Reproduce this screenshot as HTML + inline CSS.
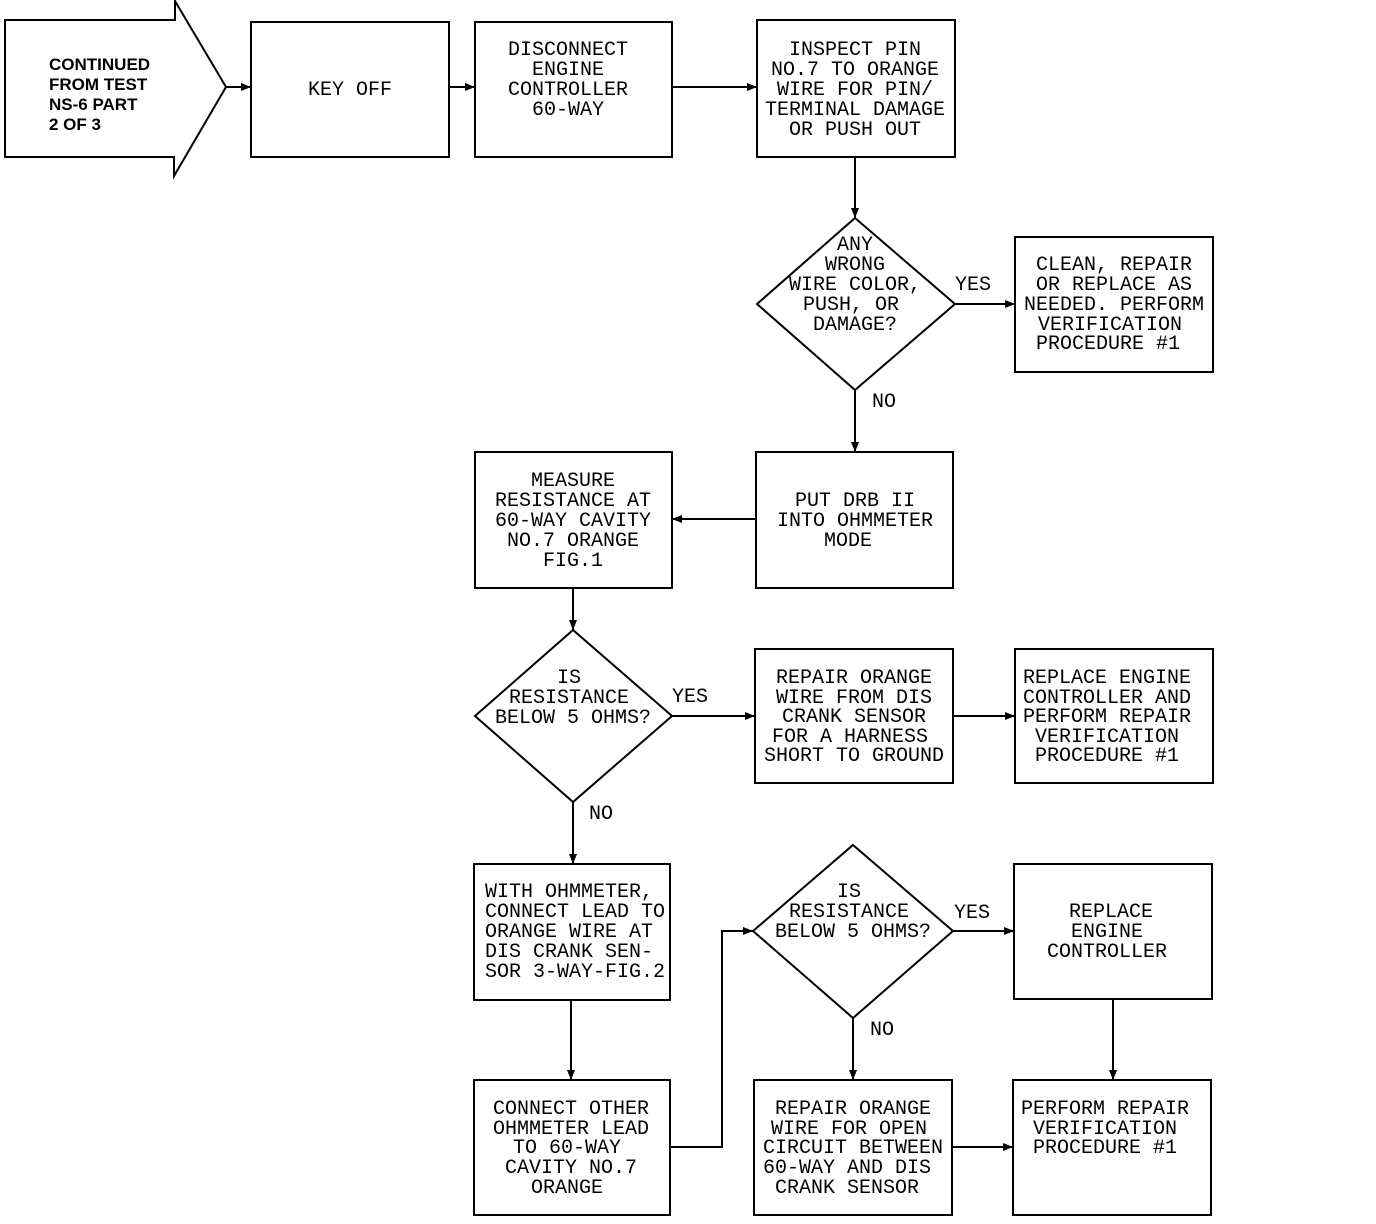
<!DOCTYPE html>
<html><head><meta charset="utf-8"><style>
html,body{margin:0;padding:0;background:#fff}
svg{display:block}
text{font-family:"Liberation Mono",monospace;font-size:20px;fill:#000;text-anchor:middle}
.b{font-family:"Liberation Sans",sans-serif;font-weight:bold;font-size:17px;text-anchor:start}
.l{text-anchor:start}
</style></head><body>
<svg width="1376" height="1224" viewBox="0 0 1376 1224" xmlns="http://www.w3.org/2000/svg">
<defs><marker id="a" markerWidth="10" markerHeight="8" refX="10" refY="4" orient="auto" markerUnits="userSpaceOnUse"><path d="M0,0 L10,4 L0,8 Z" fill="#000"/></marker></defs>
<g fill="none" stroke="#000" stroke-width="2">
<path d="M5,20 L175,20 L175,1 L226,87 L174,176 L174,157 L5,157 Z"/>
<rect x="251" y="22" width="198" height="135"/>
<rect x="475" y="22" width="197" height="135"/>
<rect x="757" y="20" width="198" height="137"/>
<path d="M855,218 L955,304 L855,390 L757,304 Z"/>
<rect x="1015" y="237" width="198" height="135"/>
<rect x="756" y="452" width="197" height="136"/>
<rect x="475" y="452" width="197" height="136"/>
<path d="M573,630 L672,716 L573,802 L475,716 Z"/>
<rect x="755" y="649" width="198" height="134"/>
<rect x="1015" y="649" width="198" height="134"/>
<rect x="474" y="864" width="196" height="136"/>
<rect x="474" y="1080" width="196" height="135"/>
<path d="M853,845 L953,931 L853,1018 L753,931 Z"/>
<rect x="1014" y="864" width="198" height="135"/>
<rect x="754" y="1080" width="198" height="135"/>
<rect x="1013" y="1080" width="198" height="135"/>
</g>
<g fill="none" stroke="#000" stroke-width="2" marker-end="url(#a)">
<path d="M226,87 L251,87"/>
<path d="M449,87 L475,87"/>
<path d="M672,87 L757,87"/>
<path d="M855,157 L855,218"/>
<path d="M955,304 L1015,304"/>
<path d="M855,390 L855,452"/>
<path d="M756,519 L672,519"/>
<path d="M573,588 L573,630"/>
<path d="M672,716 L755,716"/>
<path d="M953,716 L1015,716"/>
<path d="M573,802 L573,864"/>
<path d="M571,1000 L571,1080"/>
<path d="M670,1147 L722,1147 L722,931 L753,931"/>
<path d="M953,931 L1014,931"/>
<path d="M1113,999 L1113,1080"/>
<path d="M853,1018 L853,1080"/>
<path d="M952,1147 L1013,1147"/>
</g>
<text class="b" x="49" y="70">CONTINUED</text>
<text class="b" x="49" y="90">FROM TEST</text>
<text class="b" x="49" y="110">NS-6 PART</text>
<text class="b" x="49" y="130">2 OF 3</text>
<text x="350" y="95">KEY OFF</text>
<text x="568" y="55">DISCONNECT</text><text x="568" y="75">ENGINE</text><text x="568" y="95">CONTROLLER</text><text x="568" y="115">60-WAY</text>
<text x="855" y="55">INSPECT PIN</text><text x="855" y="75">NO.7 TO ORANGE</text><text x="855" y="95">WIRE FOR PIN/</text><text x="855" y="115">TERMINAL DAMAGE</text><text x="855" y="135">OR PUSH OUT</text>
<text x="855" y="250">ANY</text><text x="855" y="270">WRONG</text><text x="855" y="290">WIRE COLOR,</text><text x="851" y="310">PUSH, OR</text><text x="855" y="330">DAMAGE?</text>
<text x="973" y="290">YES</text><text x="884" y="407">NO</text>
<text x="1114" y="270">CLEAN, REPAIR</text><text x="1114" y="290">OR REPLACE AS</text><text x="1114" y="310">NEEDED. PERFORM</text><text x="1110" y="330">VERIFICATION</text><text x="1108" y="349">PROCEDURE #1</text>
<text x="855" y="506">PUT DRB II</text><text x="855" y="526">INTO OHMMETER</text><text x="848" y="546">MODE</text>
<text x="573" y="486">MEASURE</text><text x="573" y="506">RESISTANCE AT</text><text x="573" y="526">60-WAY CAVITY</text><text x="573" y="546">NO.7 ORANGE</text><text x="573" y="566">FIG.1</text>
<text x="569" y="683">IS</text><text x="569" y="703">RESISTANCE</text><text x="573" y="723">BELOW 5 OHMS?</text>
<text x="690" y="702">YES</text><text x="601" y="819">NO</text>
<text x="854" y="683">REPAIR ORANGE</text><text x="854" y="703">WIRE FROM DIS</text><text x="854" y="722">CRANK SENSOR</text><text x="850" y="742">FOR A HARNESS</text><text x="854" y="761">SHORT TO GROUND</text>
<text x="1107" y="683">REPLACE ENGINE</text><text x="1107" y="703">CONTROLLER AND</text><text x="1107" y="722">PERFORM REPAIR</text><text x="1107" y="742">VERIFICATION</text><text x="1107" y="761">PROCEDURE #1</text>
<text class="l" x="485" y="897">WITH OHMMETER,</text><text class="l" x="485" y="917">CONNECT LEAD TO</text><text class="l" x="485" y="937">ORANGE WIRE AT</text><text class="l" x="485" y="957">DIS CRANK SEN-</text><text class="l" x="485" y="977">SOR 3-WAY-FIG.2</text>
<text x="849" y="897">IS</text><text x="849" y="917">RESISTANCE</text><text x="853" y="937">BELOW 5 OHMS?</text>
<text x="972" y="918">YES</text><text x="882" y="1035">NO</text>
<text x="1111" y="917">REPLACE</text><text x="1107" y="937">ENGINE</text><text x="1107" y="957">CONTROLLER</text>
<text x="571" y="1114">CONNECT OTHER</text><text x="571" y="1134">OHMMETER LEAD</text><text x="567" y="1153">TO 60-WAY</text><text x="571" y="1173">CAVITY NO.7</text><text x="567" y="1193">ORANGE</text>
<text x="853" y="1114">REPAIR ORANGE</text><text x="849" y="1134">WIRE FOR OPEN</text><text x="853" y="1153">CIRCUIT BETWEEN</text><text x="847" y="1173">60-WAY AND DIS</text><text x="847" y="1193">CRANK SENSOR</text>
<text x="1105" y="1114">PERFORM REPAIR</text><text x="1105" y="1134">VERIFICATION</text><text x="1105" y="1153">PROCEDURE #1</text>
</svg>
</body></html>
